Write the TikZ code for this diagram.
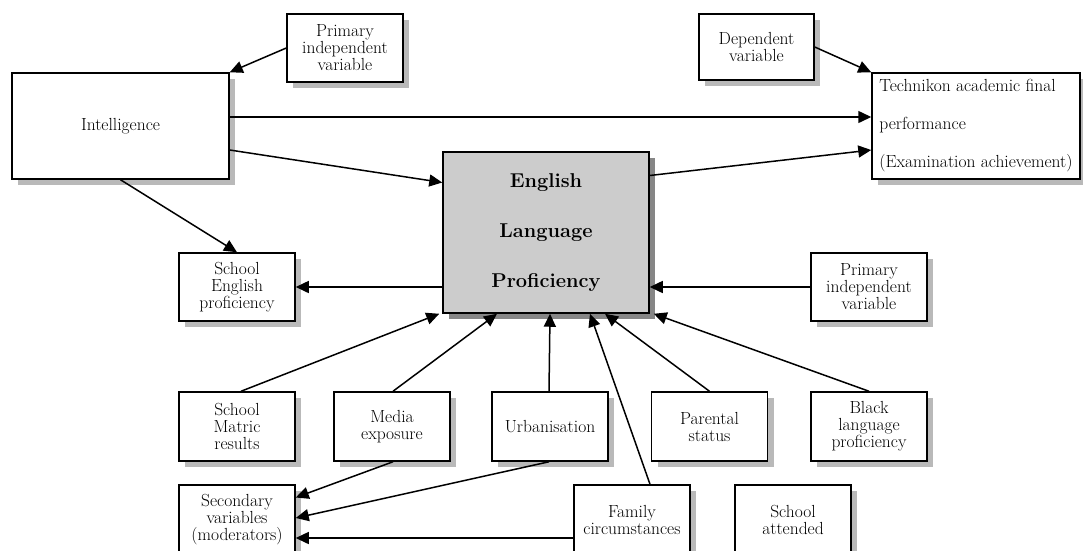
\documentclass[tikz,border=0pt]{standalone}
\usepackage{tikz}
\usetikzlibrary{arrows.meta,shadows,calc}

\begin{document}
\begin{tikzpicture}[x=1pt, y=-1pt,
  every node/.style={font=\fontsize{17.5}{17}\selectfont},
  varbox/.style={draw, line width=1.5pt, fill=white, align=center,
                 minimum width=116pt, minimum height=68pt, inner sep=2pt,
                 general shadow={fill=gray!55, shadow xshift=6pt, shadow yshift=-6pt}},
  bigbox/.style={varbox, minimum width=217pt, minimum height=106pt},
  corebox/.style={draw, line width=1.5pt, fill=gray!40, align=center,
                  minimum width=206pt, minimum height=161pt,
                  font=\fontsize{20}{20}\selectfont\bfseries,
                  general shadow={fill=gray!95, shadow xshift=6pt, shadow yshift=-6pt}},
  arr/.style={-{Triangle[length=13pt,width=12pt]}, line width=1.5pt}
]
\clip (0,0) rectangle (1083,550);
\fill[white] (0,0) rectangle (1083,550);

% ── Top row ──────────────────────────────────────────────────────────────────
\node[bigbox] (intel) at (120.5,126) {Intelligence};
\node[varbox] (pivtop) at (345,48) {Primary\\independent\\variable};
\node[varbox, minimum width=115pt, minimum height=66pt] (dep) at (756.5,47)
  {Dependent\\variable};
\node[bigbox, minimum width=208pt, align=left] (tech) at (976,126)
  {Technikon academic final\\[21pt]performance\\[21pt](Examination achievement)};

% ── Core construct ───────────────────────────────────────────────────────────
\node[corebox] (elp) at (546,232.5) {English\\[30pt]Language\\[30pt]Proficiency};

% ── Middle row ───────────────────────────────────────────────────────────────
\node[varbox] (schooleng) at (237,287) {School\\English\\proficiency};
\node[varbox] (pivright) at (869,287) {Primary\\independent\\variable};

% ── Lower row (influences) ───────────────────────────────────────────────────
\node[varbox, minimum height=69pt] (matric) at (237,426.5) {School\\Matric\\results};
\node[varbox, minimum height=69pt] (media)  at (392,426.5) {Media\\exposure};
\node[varbox, minimum height=69pt] (urban)  at (550,426.5) {Urbanisation};
\node[varbox, minimum height=69pt] (parent) at (709.5,426.5) {Parental\\status};
\node[varbox, minimum height=69pt] (black)  at (869,426.5) {Black\\language\\proficiency};

% ── Bottom row ───────────────────────────────────────────────────────────────
\node[varbox, minimum height=69pt] (second) at (237,519.5)
  {Secondary\\variables\\(moderators)};
\node[varbox, minimum height=69pt] (family) at (632,519.5) {Family\\circumstances};
\node[varbox, minimum height=69pt] (school) at (793,519.5) {School\\attended};

% ── Arrows: top ──────────────────────────────────────────────────────────────
\draw[arr] (pivtop.west) -- (intel.north east);
\draw[arr] (dep.east) -- (tech.north west);
\draw[arr] ([yshift=9pt]intel.east) -- ([yshift=9pt]tech.west);
\draw[arr] ([yshift=-24pt]intel.east) -- ([yshift=50pt]elp.west);
\draw[arr] (intel.south) -- (schooleng.north);
\draw[arr] ([yshift=57pt]elp.east) -- ([yshift=-24pt]tech.west);

% ── Arrows: left / right of core ─────────────────────────────────────────────
\draw[arr] (schooleng.east -| elp.west) -- (schooleng.east);
\draw[arr] (pivright.west) -- (pivright.west -| elp.east);

% ── Arrows: influences into core ─────────────────────────────────────────────
\draw[arr] ([xshift=4pt]matric.north) -- ([xshift=-3pt]elp.south west);
\draw[arr] ([xshift=1pt]media.north) -- ([xshift=-49pt]elp.south);
\draw[arr] ([xshift=-1pt]urban.north) -- (urban.north |- elp.south);
\draw[arr] ([xshift=18pt]family.north) -- ([xshift=44pt]elp.south);
\draw[arr] (parent.north) -- ([xshift=59pt]elp.south);
\draw[arr] (black.north) -- ([xshift=4pt]elp.south east);

% ── Arrows: moderators ───────────────────────────────────────────────────────
\draw[arr] ([xshift=1pt]media.south) -- ([yshift=22pt]second.east);
\draw[arr] ([xshift=-1pt]urban.south) -- ([yshift=1.5pt]second.east);
\draw[arr] ([yshift=-18.5pt]family.west) -- ([yshift=-18.5pt]second.east);
\end{tikzpicture}
\end{document}
